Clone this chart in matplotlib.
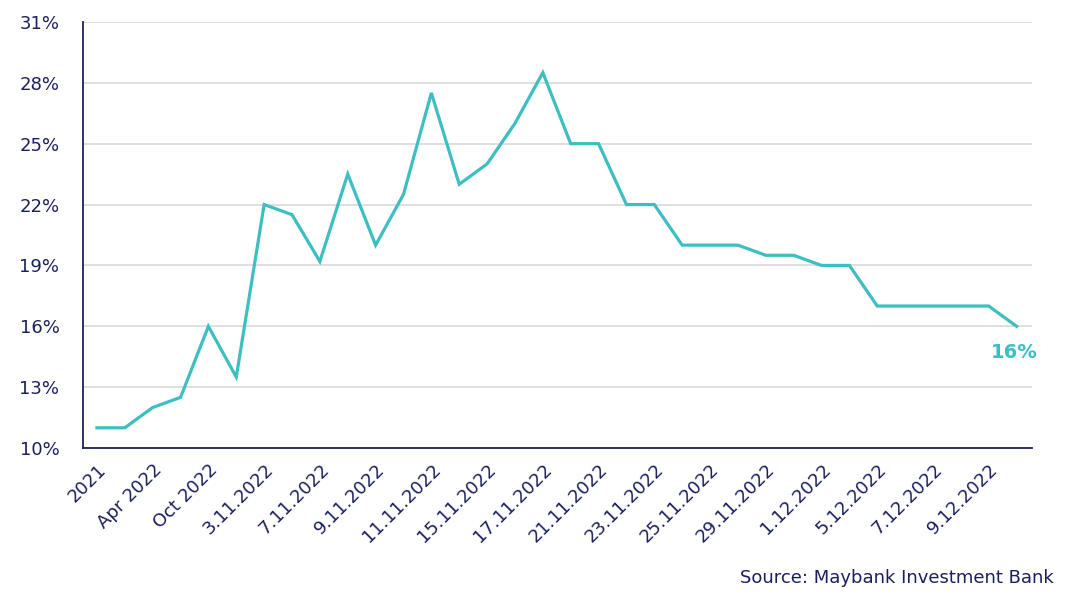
import matplotlib.pyplot as plt
import numpy as np

# values (%)
values = [11, 11, 12, 12.5, 16, 13.5, 22, 21.5, 19.2, 23.5, 20, 22.5, 27.5, 23, 24, 26, 28.5,
          25, 25, 22, 22, 20, 20, 20, 19.5, 19.5, 19, 19, 17, 17, 17, 17, 17, 16]
tick_labels = ['2021', 'Apr 2022', 'Oct 2022', '3.11.2022', '7.11.2022', '9.11.2022', '11.11.2022',
               '15.11.2022', '17.11.2022', '21.11.2022', '23.11.2022', '25.11.2022', '29.11.2022',
               '1.12.2022', '5.12.2022', '7.12.2022', '9.12.2022']
y_ticks = [10, 13, 16, 19, 22, 25, 28, 31]

navy = '#1b1f5e'
teal = '#3dbfc1'
plt.rcParams['font.family'] = ['DejaVu Sans']

fig = plt.figure(figsize=(10.92, 6.08), dpi=100)
ax = fig.add_axes([0.076, 0.263, 0.869, 0.701])

x = np.arange(len(values))
ax.plot(x, values, color=teal, linewidth=2.3, solid_joinstyle='miter')

ax.set_xlim(-0.5, len(values) - 0.45)
ax.set_ylim(10, 31)
ax.set_yticks(y_ticks)
ax.set_yticklabels([f"{v}%" for v in y_ticks])
ax.set_xticks(x[::2])
ax.set_xticklabels(tick_labels, rotation=45, ha='right', rotation_mode='anchor')

ax.tick_params(length=0, labelsize=13, colors=navy)
ax.tick_params(axis='y', pad=17)
ax.tick_params(axis='x', pad=9)
ax.grid(axis='y', color='#d9d9d9', linewidth=1.2)
ax.set_axisbelow(True)
for s in ['top', 'right']:
    ax.spines[s].set_visible(False)
for s in ['left', 'bottom']:
    ax.spines[s].set_color(navy)
    ax.spines[s].set_linewidth(1.3)

# end label
ax.annotate(f"{values[-1]}%", (x[-1], values[-1]), xytext=(-2, -26), textcoords='offset points',
            ha='center', va='bottom', color=teal, fontsize=14, fontweight='bold')

fig.text(0.965, 0.035, 'Source: Maybank Investment Bank', ha='right', va='bottom',
         color=navy, fontsize=13)

plt.savefig('out.png', dpi=100)
